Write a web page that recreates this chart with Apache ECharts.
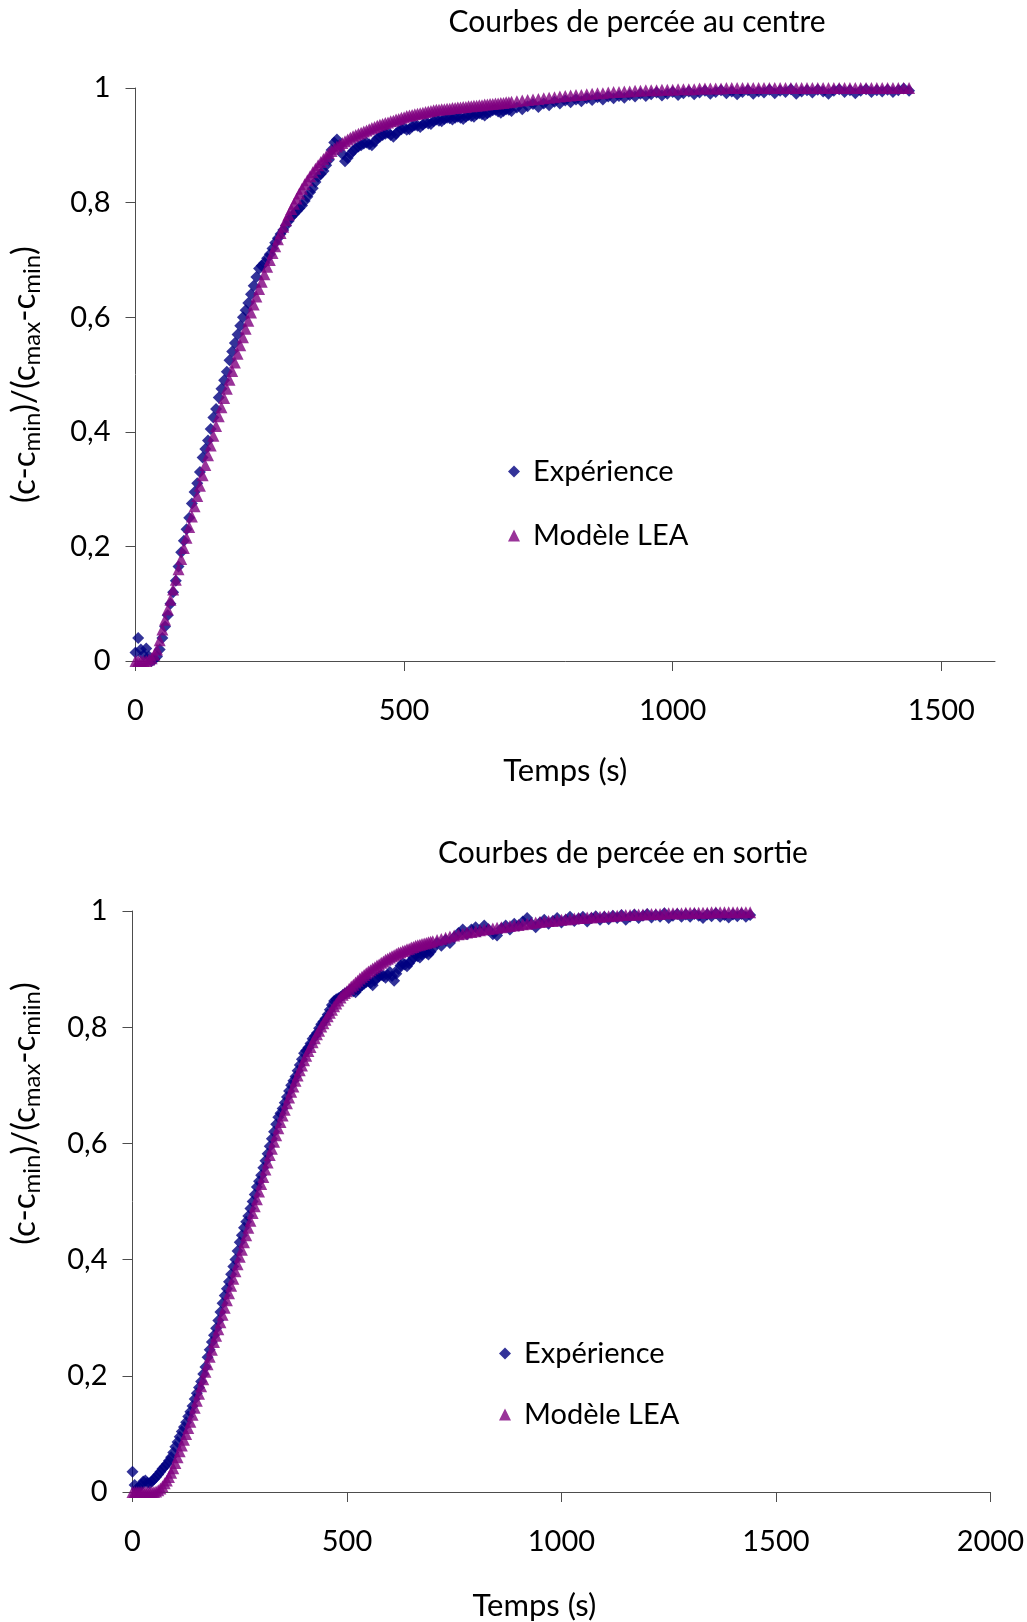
<!DOCTYPE html>
<html>
<head>
<meta charset="utf-8">
<script src="https://cdn.jsdelivr.net/npm/echarts@6/dist/echarts.min.js"></script>
<style>
html,body{margin:0;padding:0;background:#fff;}
#chart{width:1027px;height:1622px;}
</style>
</head>
<body>
<div id="chart"></div>
<script>
// Sampling times (s), shared by both charts
const times = [
  0,5,10,15,20,25,30,35,40,45,50,55,60,65,70,75,80,85,90,95,
  100,105,110,115,120,125,130,135,140,145,150,155,160,165,170,175,180,185,190,195,
  200,205,210,215,220,225,230,235,240,245,250,255,260,265,270,275,280,285,290,295,
  300,305,310,315,320,325,330,335,340,345,350,355,360,365,370,375,380,385,390,395,
  400,405,410,415,420,425,430,435,440,445,450,455,460,465,470,475,480,485,490,495,
  500,505,510,515,520,525,530,535,540,545,550,555,560,565,570,575,580,585,590,595,
  600,605,610,615,620,625,630,635,640,645,650,655,660,665,670,675,680,685,690,695,
  700,
  710,720,730,740,750,760,770,780,790,
  800,810,820,830,840,850,860,870,880,890,
  900,910,920,930,940,950,960,970,980,990,
  1000,1010,1020,1030,1040,1050,1060,1070,1080,1090,
  1100,1110,1120,1130,1140,1150,1160,1170,1180,1190,
  1200,1210,1220,1230,1240,1250,1260,1270,1280,1290,
  1300,1310,1320,1330,1340,1350,1360,1370,1380,1390,
  1400,1410,1420,1430,1440
];

// Top chart: "Courbes de percée au centre"
const expTop = [
  0.015,0.04,0.02,0.01,0.022,0.008,0.0,0.003,0.008,0.02,0.04,0.06,0.08,0.1,0.12,0.14,0.165,0.19,0.21,0.23,
  0.25,0.275,0.295,0.31,0.33,0.355,0.37,0.385,0.405,0.425,0.44,0.46,0.475,0.49,0.505,0.525,0.54,0.555,0.57,0.585,
  0.6,0.612,0.625,0.64,0.655,0.67,0.685,0.69,0.695,0.703,0.71,0.72,0.73,0.738,0.745,0.752,0.76,0.768,0.775,0.78,
  0.785,0.79,0.795,0.803,0.81,0.818,0.825,0.836,0.845,0.85,0.855,0.865,0.875,0.892,0.905,0.91,0.9,0.885,0.872,0.878,
  0.885,0.89,0.895,0.898,0.9,0.903,0.905,0.902,0.9,0.906,0.912,0.915,0.918,0.92,0.922,0.918,0.915,0.92,0.925,0.928,
  0.93,0.927,0.928,0.933,0.935,0.934,0.932,0.936,0.94,0.938,0.937,0.942,0.945,0.943,0.942,0.946,0.948,0.947,0.945,0.948,
  0.95,0.948,0.946,0.95,0.953,0.951,0.95,0.954,0.956,0.954,0.952,0.956,0.958,0.961,0.962,0.959,0.957,0.96,0.963,0.962,
  0.96,
  0.966,0.963,0.968,0.972,0.967,0.973,0.97,0.976,0.973,
  0.978,0.975,0.98,0.977,0.982,0.979,0.984,0.98,0.985,0.982,
  0.986,0.983,0.988,0.985,0.99,0.986,0.989,0.992,0.987,0.99,
  0.993,0.988,0.991,0.994,0.989,0.992,0.995,0.99,0.993,0.996,
  0.991,0.994,0.989,0.993,0.996,0.99,0.994,0.992,0.997,0.991,
  0.995,0.993,0.998,0.99,0.994,0.996,0.992,0.997,0.994,0.99,
  0.995,0.998,0.993,0.996,0.991,0.995,0.998,0.993,0.996,0.994,
  0.997,0.993,0.996,0.999,0.995
];
const modelTop = [
  0,0,0,0,0,0.002,0.005,0.011,0.02,0.036,0.055,0.072,0.09,0.107,0.125,0.142,0.16,0.178,0.197,0.215,
  0.234,0.252,0.27,0.288,0.306,0.324,0.342,0.359,0.376,0.393,0.41,0.427,0.443,0.459,0.475,0.491,0.506,0.521,0.536,0.551,
  0.565,0.58,0.594,0.608,0.622,0.636,0.649,0.662,0.675,0.688,0.7,0.712,0.724,0.736,0.747,0.758,0.769,0.779,0.789,0.798,
  0.807,0.816,0.824,0.832,0.839,0.846,0.853,0.859,0.865,0.871,0.876,0.881,0.886,0.89,0.894,0.898,0.901,0.904,0.907,0.91,
  0.913,0.916,0.918,0.92,0.922,0.924,0.926,0.928,0.93,0.932,0.934,0.936,0.937,0.939,0.94,0.942,0.943,0.945,0.946,0.948,
  0.949,0.951,0.952,0.953,0.954,0.955,0.956,0.957,0.958,0.959,0.96,0.961,0.962,0.962,0.963,0.963,0.964,0.964,0.965,0.965,
  0.966,0.966,0.967,0.967,0.968,0.968,0.969,0.969,0.97,0.97,0.971,0.971,0.972,0.972,0.973,0.973,0.974,0.974,0.975,0.975,
  0.976,
  0.977,0.978,0.979,0.98,0.981,0.982,0.983,0.984,0.985,
  0.986,0.987,0.988,0.988,0.989,0.99,0.991,0.991,0.992,0.993,
  0.993,0.994,0.994,0.995,0.995,0.996,0.996,0.996,0.997,0.997,
  0.997,0.998,0.998,0.998,0.998,0.999,0.999,0.999,0.999,0.999,
  1,1,1,1,1,1,1,1,1,1,
  1,1,1,1,1,1,1,1,1,1,
  1,1,1,1,1,1,1,1,1,1,
  1,1,1,1,1
];

// Bottom chart: "Courbes de percée en sortie"
const expBottom = [
  0.035,0.012,0.005,0.008,0.012,0.018,0.02,0.016,0.015,0.018,0.022,0.026,0.03,0.035,0.04,0.044,0.048,0.054,0.06,0.068,
  0.078,0.086,0.095,0.104,0.112,0.12,0.13,0.138,0.148,0.16,0.17,0.18,0.19,0.203,0.215,0.232,0.245,0.258,0.27,0.282,
  0.295,0.31,0.325,0.338,0.35,0.362,0.375,0.388,0.4,0.415,0.43,0.442,0.455,0.465,0.475,0.488,0.5,0.512,0.525,0.535,
  0.545,0.558,0.57,0.582,0.595,0.608,0.62,0.633,0.645,0.652,0.66,0.67,0.68,0.69,0.7,0.708,0.715,0.725,0.735,0.745,
  0.755,0.76,0.765,0.772,0.78,0.785,0.79,0.798,0.805,0.81,0.815,0.822,0.83,0.838,0.845,0.848,0.85,0.852,0.855,0.858,
  0.86,0.862,0.865,0.862,0.86,0.865,0.87,0.872,0.875,0.878,0.88,0.876,0.872,0.88,0.885,0.888,0.89,0.888,0.885,0.89,
  0.895,0.888,0.88,0.892,0.9,0.906,0.91,0.908,0.905,0.91,0.915,0.92,0.925,0.922,0.92,0.925,0.93,0.928,0.925,0.93,
  0.935,
  0.945,0.94,0.95,0.945,0.955,0.962,0.968,0.96,0.968,
  0.972,0.965,0.975,0.968,0.96,0.958,0.97,0.975,0.968,0.978,
  0.975,0.982,0.988,0.978,0.972,0.98,0.985,0.978,0.983,0.988,
  0.98,0.985,0.99,0.983,0.987,0.99,0.982,0.988,0.991,0.985,
  0.99,0.986,0.992,0.988,0.993,0.985,0.99,0.994,0.988,0.992,
  0.995,0.989,0.993,0.99,0.996,0.988,0.992,0.995,0.99,0.994,
  0.99,0.995,0.992,0.988,0.994,0.991,0.996,0.99,0.993,0.989,
  0.994,0.991,0.995,0.99,0.993
];
const modelBottom = [
  0,0,0,0,0,0,0,0,0,0,0,0.001,0.003,0.006,0.01,0.015,0.02,0.026,0.033,0.041,
  0.05,0.06,0.07,0.08,0.09,0.1,0.11,0.121,0.133,0.145,0.157,0.169,0.182,0.194,0.207,0.22,0.233,0.245,0.258,0.269,
  0.28,0.292,0.305,0.317,0.33,0.342,0.355,0.367,0.38,0.392,0.405,0.417,0.43,0.442,0.455,0.467,0.48,0.492,0.504,0.517,
  0.53,0.542,0.555,0.567,0.58,0.591,0.603,0.614,0.626,0.637,0.648,0.658,0.669,0.679,0.689,0.698,0.708,0.717,0.726,0.734,
  0.743,0.751,0.759,0.766,0.774,0.781,0.788,0.794,0.801,0.807,0.813,0.819,0.825,0.83,0.836,0.841,0.846,0.851,0.856,0.859,
  0.862,0.866,0.87,0.873,0.877,0.88,0.884,0.887,0.89,0.893,0.896,0.898,0.901,0.903,0.906,0.908,0.911,0.913,0.916,0.918,
  0.92,0.922,0.924,0.926,0.928,0.929,0.931,0.932,0.934,0.935,0.937,0.938,0.94,0.941,0.942,0.943,0.944,0.945,0.946,0.947,
  0.948,
  0.95,0.952,0.954,0.956,0.958,0.96,0.961,0.963,0.964,
  0.965,0.967,0.968,0.969,0.97,0.971,0.972,0.973,0.974,0.975,
  0.976,0.977,0.978,0.979,0.98,0.981,0.982,0.983,0.983,0.984,
  0.985,0.986,0.986,0.987,0.988,0.988,0.989,0.989,0.99,0.99,
  0.991,0.991,0.992,0.992,0.993,0.993,0.993,0.994,0.994,0.994,
  0.995,0.995,0.995,0.995,0.996,0.996,0.996,0.996,0.996,0.997,
  0.997,0.997,0.997,0.997,0.997,0.998,0.998,0.998,0.998,0.998,
  0.998,0.998,0.998,0.998,0.998
];

const xTicksTop = [0, 500, 1000, 1500];
const xTicksBottom = [0, 500, 1000, 1500, 2000];

const titles = ['Courbes de percée au centre', 'Courbes de percée en sortie'];
const seriesNames = ['Expérience', 'Modèle LEA'];
const xName = 'Temps (s)';

[expTop, modelTop, expBottom, modelBottom].forEach(function (a, k) {
  if (a.length !== times.length) throw new Error('length mismatch in array ' + k + ': ' + a.length + ' vs ' + times.length);
});

const FONT = "Lato, 'Noto Sans', sans-serif";
const FS_TICK = 29;
const FS_TITLE = 30;
const FS_NAME = 31;
const FS_LEG = 29;
const AXIS_COLOR = '#4d4d4d';
const EXP_COLOR = '#000080';
const MODEL_COLOR = '#800080';

function yFmt(v) {
  if (Math.abs(v - Math.round(v)) < 1e-9) return String(Math.round(v));
  return v.toFixed(1).replace('.', ',');
}
function xFmt(v) { return String(Math.round(v)); }
const richName = {
  n: {fontSize: 33, fontFamily: FONT, color: '#000', lineHeight: 40},
  s: {fontSize: 24, fontFamily: FONT, color: '#000', lineHeight: 24, verticalAlign: 'bottom'}
};
const yNameTop = '{n|(c-c}{s|min}{n|)/(c}{s|max}{n|-c}{s|min}{n|)}';
const yNameBottom = '{n|(c-c}{s|min}{n|)/(c}{s|max}{n|-c}{s|miin}{n|)}';

function xAxisCfg(grid, max, ticks, gap, namePad) {
  return {
    gridIndex: grid, type: 'value', min: 0, max: max, interval: 500,
    axisLine: {show: true, lineStyle: {color: AXIS_COLOR, width: 1}},
    axisTick: {show: true, length: 10, inside: false, customValues: ticks, lineStyle: {color: AXIS_COLOR}},
    axisLabel: {customValues: ticks, margin: 35, fontSize: FS_TICK, fontFamily: FONT, color: '#000', formatter: xFmt},
    splitLine: {show: false},
    name: xName, nameLocation: 'middle', nameGap: gap,
    nameTextStyle: {fontSize: FS_NAME, fontFamily: FONT, color: '#000', padding: namePad}
  };
}
function yAxisCfg(grid, name, gap, namePad) {
  return {
    gridIndex: grid, type: 'value', min: 0, max: 1, interval: 0.2,
    axisLine: {show: true, lineStyle: {color: AXIS_COLOR, width: 1}},
    axisTick: {show: true, length: 10, inside: false, lineStyle: {color: AXIS_COLOR}},
    axisLabel: {margin: 25, fontSize: FS_TICK, fontFamily: FONT, color: '#000', formatter: yFmt},
    splitLine: {show: false},
    name: name, nameLocation: 'middle', nameRotate: 90, nameGap: gap,
    nameTextStyle: {rich: richName, padding: namePad}
  };
}
function pairs(vals) { return times.map((t, i) => [t, vals[i]]); }
function legendCfg(left, top, gap) {
  return {
    left: left, top: top, orient: 'vertical', itemGap: gap, padding: 0,
    itemWidth: 12, itemHeight: 12, selectedMode: false,
    textStyle: {fontSize: FS_LEG, fontFamily: FONT, color: '#000', padding: [0, 0, 0, 8]},
    data: [{name: seriesNames[0], icon: 'diamond'}, {name: seriesNames[1], icon: 'triangle'}]
  };
}

const chart = echarts.init(document.getElementById('chart'), null, {renderer: 'canvas'});
chart.setOption({
  animation: false,
  backgroundColor: '#fff',
  title: [
    {text: titles[0], left: 637, top: 7, textAlign: 'center', padding: 0,
     textStyle: {fontSize: FS_TITLE, fontFamily: FONT, fontWeight: 'normal', color: '#000'}},
    {text: titles[1], left: 623, top: 838, textAlign: 'center', padding: 0,
     textStyle: {fontSize: FS_TITLE, fontFamily: FONT, fontWeight: 'normal', color: '#000'}}
  ],
  legend: [legendCfg(508, 457, 35), legendCfg(499, 1339, 32)],
  grid: [
    {left: 133, top: 88, width: 862, height: 573, containLabel: false},
    {left: 130, top: 911, width: 863, height: 581, containLabel: false}
  ],
  xAxis: [
    xAxisCfg(0, 1600, xTicksTop, 94, [0, 0, 0, 0]),
    xAxisCfg(1, 2000, xTicksBottom, 98, [0, 54, 0, 0])
  ],
  yAxis: [
    yAxisCfg(0, yNameTop, 91, [0, 0, 0, 0]),
    yAxisCfg(1, yNameBottom, 88, [0, 0, 0, 176])
  ],
  series: [
    {type: 'scatter', name: seriesNames[0], xAxisIndex: 0, yAxisIndex: 0, symbol: 'diamond', symbolSize: 12,
     itemStyle: {color: EXP_COLOR}, data: pairs(expTop)},
    {type: 'scatter', name: seriesNames[1], xAxisIndex: 0, yAxisIndex: 0, symbol: 'triangle', symbolSize: 12,
     itemStyle: {color: MODEL_COLOR}, data: pairs(modelTop)},
    {type: 'scatter', name: seriesNames[0], xAxisIndex: 1, yAxisIndex: 1, symbol: 'diamond', symbolSize: 12,
     itemStyle: {color: EXP_COLOR}, data: pairs(expBottom)},
    {type: 'scatter', name: seriesNames[1], xAxisIndex: 1, yAxisIndex: 1, symbol: 'triangle', symbolSize: 12,
     itemStyle: {color: MODEL_COLOR}, data: pairs(modelBottom)}
  ]
});
</script>
</body>
</html>
